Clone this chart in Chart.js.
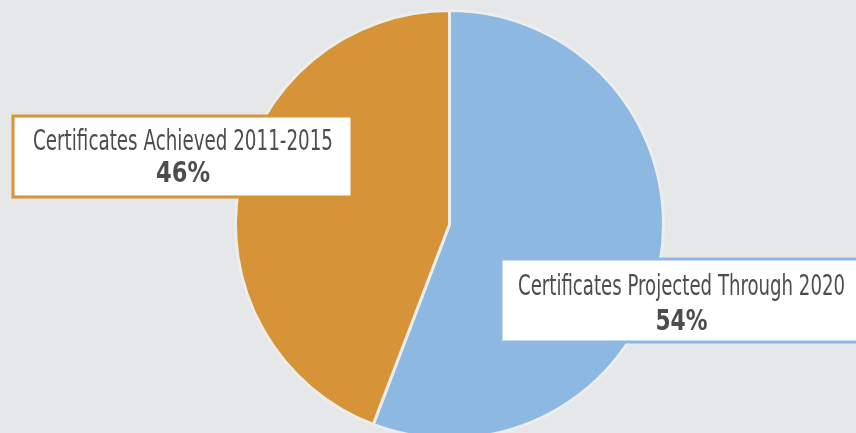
<!DOCTYPE html>
<html lang="en">
<head>
    <meta charset="UTF-8">
    <title>Certificates</title>
    <style>
        html, body {
            margin: 0;
            padding: 0;
            background: #e6e7e8;
            overflow: hidden;
        }
        #chartBox {
            width: 856px;
            height: 440px;
            position: relative;
        }
    </style>
    <script src="https://cdn.jsdelivr.net/npm/chart.js"></script>
</head>
<body>
    <div id="chartBox">
        <canvas id="pieChart"></canvas>
    </div>

    <script>
        // slices, clockwise from 12 o'clock
        const categories = ['Certificates Projected Through 2020', 'Certificates Achieved 2011-2015'];
        const sliceValues = [55.8, 44.2];   // measured from the slice angles
        const percentLabels = ['54%', '46%'];
        const sliceColors = ['#8db8e2', '#d79338'];

        // callout boxes (left / right) - layout only
        const callouts = [
            { idx: 1, x: 13, y: 116, w: 339, h: 81, cx: 183, titleBase: 150, titleW: 300, pctBase: 182, pctW: 54 },
            { idx: 0, x: 501, y: 259, w: 360, h: 83, cx: 681.5, titleBase: 295, titleW: 327, pctBase: 330, pctW: 52 }
        ];

        function fitText(ctx, text, cx, baseline, targetW) {
            const w = ctx.measureText(text).width;
            const sx = targetW / w;
            ctx.save();
            ctx.translate(cx, baseline);
            ctx.scale(sx, 1);
            ctx.fillText(text, 0, 0);
            ctx.restore();
        }

        const calloutPlugin = {
            id: 'callouts',
            afterDraw(chart) {
                const ctx = chart.ctx;
                ctx.save();
                callouts.forEach(c => {
                    ctx.fillStyle = '#ffffff';
                    ctx.fillRect(c.x, c.y, c.w, c.h);
                    ctx.strokeStyle = sliceColors[c.idx];
                    ctx.lineWidth = 3;
                    ctx.strokeRect(c.x, c.y, c.w, c.h);

                    ctx.fillStyle = '#4d4d4f';
                    ctx.textAlign = 'center';
                    ctx.textBaseline = 'alphabetic';
                    ctx.font = "28px 'Liberation Sans Narrow', 'DejaVu Sans Condensed', sans-serif";
                    fitText(ctx, categories[c.idx], c.cx, c.titleBase, c.titleW);
                    ctx.font = "bold 28px 'Liberation Sans Narrow', 'DejaVu Sans Condensed', sans-serif";
                    fitText(ctx, percentLabels[c.idx], c.cx, c.pctBase, c.pctW);
                });
                ctx.restore();
            }
        };

        const ctx = document.getElementById('pieChart').getContext('2d');
        new Chart(ctx, {
            type: 'pie',
            data: {
                labels: categories,
                datasets: [{
                    data: sliceValues,
                    backgroundColor: sliceColors,
                    borderColor: '#eceded',
                    borderWidth: 3
                }]
            },
            options: {
                responsive: true,
                maintainAspectRatio: false,
                animation: false,
                layout: {
                    padding: { top: 9, left: 43, right: 0, bottom: 0 }
                },
                plugins: {
                    legend: { display: false },
                    tooltip: { enabled: false }
                }
            },
            plugins: [calloutPlugin]
        });
    </script>
</body>
</html>
